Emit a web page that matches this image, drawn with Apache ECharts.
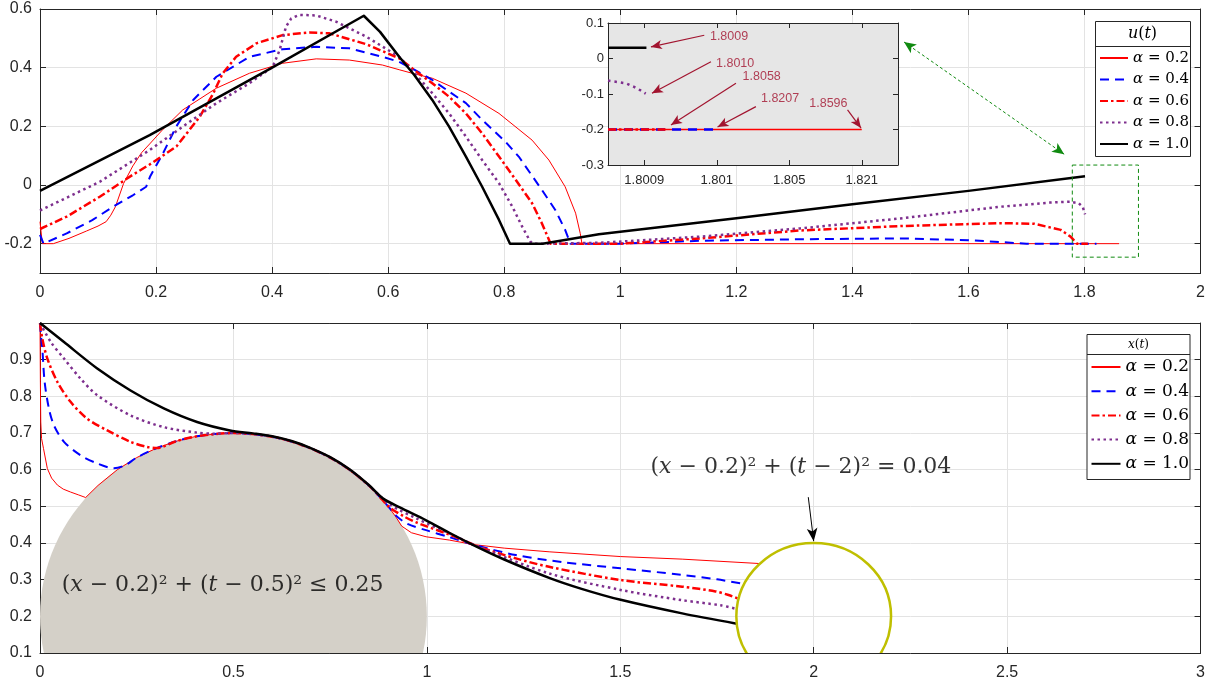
<!DOCTYPE html>
<html><head><meta charset="utf-8">
<script src="https://cdn.jsdelivr.net/npm/echarts@6/dist/echarts.min.js"></script>
<style>html,body{margin:0;padding:0;background:#fff}#c{width:1208px;height:684px}</style>
</head><body><div id="c"></div>
<script>
// ---------- data ----------
const alphaLabels = ['0.2', '0.4', '0.6', '0.8', '1.0'];

// top panel u(t)
const u02 = [[0,-0.125],[0.004,-0.2],[0.023,-0.2],[0.05,-0.182],[0.08,-0.157],[0.1,-0.14],[0.114,-0.125],[0.122,-0.103],[0.13,-0.074],[0.144,0.005],[0.16,0.065],[0.175,0.11],[0.189,0.14],[0.212,0.19],[0.246,0.256],[0.304,0.33],[0.361,0.381],[0.418,0.415],[0.476,0.43],[0.533,0.426],[0.59,0.409],[0.619,0.393],[0.645,0.379],[0.676,0.364],[0.734,0.313],[0.791,0.244],[0.848,0.153],[0.877,0.085],[0.905,-0.006],[0.923,-0.096],[0.931,-0.165],[0.934,-0.2],[1.8596,-0.2]];
const u04 = [[0,-0.17],[0.006,-0.2],[0.046,-0.165],[0.09,-0.12],[0.126,-0.074],[0.16,-0.035],[0.183,-0.006],[0.19,0.03],[0.212,0.108],[0.235,0.2],[0.264,0.29],[0.304,0.369],[0.361,0.437],[0.418,0.463],[0.476,0.471],[0.533,0.466],[0.59,0.437],[0.619,0.42],[0.645,0.393],[0.676,0.358],[0.734,0.279],[0.762,0.222],[0.802,0.148],[0.825,0.097],[0.865,-0.017],[0.888,-0.085],[0.905,-0.153],[0.914,-0.2],[1.0,-0.2],[1.14,-0.19],[1.31,-0.185],[1.483,-0.182],[1.6,-0.188],[1.684,-0.198],[1.7,-0.2],[1.8207,-0.2]];
const u06 = [[0,-0.15],[0.046,-0.108],[0.103,-0.04],[0.16,0.035],[0.189,0.07],[0.235,0.131],[0.275,0.232],[0.298,0.31],[0.315,0.381],[0.338,0.437],[0.373,0.483],[0.418,0.511],[0.464,0.52],[0.499,0.517],[0.562,0.48],[0.619,0.432],[0.645,0.392],[0.676,0.347],[0.705,0.301],[0.734,0.244],[0.762,0.176],[0.791,0.097],[0.82,0.017],[0.848,-0.062],[0.865,-0.131],[0.88,-0.2],[1.0,-0.2],[1.138,-0.182],[1.31,-0.155],[1.483,-0.14],[1.655,-0.13],[1.713,-0.132],[1.759,-0.153],[1.776,-0.176],[1.787,-0.2],[1.8058,-0.2]];
const u08 = [[0,-0.087],[0.103,0.011],[0.189,0.119],[0.246,0.199],[0.304,0.279],[0.361,0.347],[0.401,0.403],[0.413,0.46],[0.424,0.54],[0.433,0.568],[0.447,0.58],[0.476,0.578],[0.51,0.557],[0.562,0.506],[0.619,0.437],[0.653,0.365],[0.676,0.313],[0.705,0.244],[0.734,0.165],[0.762,0.085],[0.791,0.006],[0.814,-0.074],[0.831,-0.142],[0.845,-0.193],[0.85,-0.2],[0.87,-0.2],[0.966,-0.197],[1.138,-0.176],[1.31,-0.148],[1.483,-0.114],[1.655,-0.074],[1.74,-0.06],[1.775,-0.057],[1.79,-0.062],[1.797,-0.075],[1.801,-0.1]];
const u10 = [[0,-0.02],[0.189,0.17],[0.4,0.4],[0.558,0.577],[0.586,0.522],[0.619,0.437],[0.645,0.375],[0.676,0.29],[0.705,0.199],[0.734,0.097],[0.762,-0.006],[0.791,-0.119],[0.81,-0.2],[0.866,-0.2],[0.963,-0.168],[1.2,-0.113],[1.4,-0.066],[1.6,-0.02],[1.8009,0.03]];

// inset (x = tick index position)
const insetTickLabels = ['1.8009', '1.801', '1.805', '1.821'];
const insetTickPos = [0, 1, 2, 3];
const insetU02 = [[-0.5,-0.2],[3.0,-0.2]];
const insetU04 = [[-0.5,-0.2],[1.0,-0.2]];
const insetU06 = [[-0.5,-0.2],[0.3,-0.2]];
const insetU08 = [[-0.5,-0.062],[-0.25,-0.07],[-0.14,-0.08],[-0.05,-0.09],[0.02,-0.099]];
const insetU10 = [[-0.5,0.03],[0.03,0.03]];
const insetNotes = [[0.906,0.061,'1.8009'],[0.99,-0.014,'1.8010'],[1.356,-0.0515,'1.8058'],[1.61,-0.112,'1.8207'],[2.276,-0.126,'1.8596']];
const insetArrows = [
  [[0.828,0.0655],[0.092,0.0327]],
  [[0.92,-0.0094],[0.106,-0.098]],
  [[1.265,-0.07],[0.368,-0.187]],
  [[1.54,-0.1356],[1.011,-0.193]],
  [[2.804,-0.1449],[2.99,-0.196]]
];
const zoomBox = [[1.779,0.068],[1.893,0.068],[1.893,-0.246],[1.779,-0.246],[1.779,0.068]];
const zoomArrow = [[1.489,0.4875],[1.765,0.105]];

// bottom panel x(t)
const x02 = [[0,1.0],[0.001,0.84],[0.002,0.73],[0.004,0.685],[0.009,0.658],[0.019,0.603],[0.03,0.577],[0.045,0.558],[0.06,0.547],[0.079,0.539],[0.1,0.531],[0.118,0.524],[0.15,0.557],[0.2,0.6],[0.25,0.633],[0.3,0.658],[0.35,0.677],[0.4,0.69],[0.45,0.697],[0.5,0.7],[0.55,0.697],[0.6,0.69],[0.65,0.677],[0.7,0.658],[0.75,0.633],[0.8,0.6],[0.85,0.557],[0.9,0.5],[0.92,0.471],[0.935,0.446],[0.96,0.428],[0.998,0.417],[1.058,0.408],[1.119,0.396],[1.2,0.386],[1.316,0.376],[1.501,0.363],[1.66,0.356],[1.8596,0.344]];
const x04 = [[0,1.0],[0.003,0.96],[0.006,0.93],[0.012,0.839],[0.023,0.767],[0.036,0.721],[0.062,0.676],[0.105,0.639],[0.148,0.617],[0.191,0.604],[0.22,0.612],[0.25,0.633],[0.3,0.658],[0.35,0.677],[0.4,0.69],[0.45,0.697],[0.5,0.7],[0.55,0.697],[0.6,0.69],[0.65,0.677],[0.7,0.658],[0.75,0.633],[0.8,0.6],[0.85,0.557],[0.9,0.5],[0.921,0.474],[0.95,0.452],[0.998,0.435],[1.058,0.416],[1.119,0.396],[1.23,0.367],[1.35,0.348],[1.501,0.331],[1.66,0.313],[1.75,0.301],[1.8207,0.288]];
const x06 = [[0,1.0],[0.006,0.957],[0.019,0.903],[0.045,0.839],[0.079,0.785],[0.122,0.739],[0.174,0.707],[0.234,0.676],[0.277,0.662],[0.303,0.659],[0.35,0.677],[0.4,0.69],[0.45,0.697],[0.5,0.7],[0.55,0.697],[0.6,0.69],[0.65,0.677],[0.7,0.658],[0.75,0.633],[0.8,0.6],[0.85,0.557],[0.875,0.53],[0.904,0.497],[0.94,0.473],[0.973,0.456],[1.058,0.423],[1.119,0.396],[1.144,0.386],[1.23,0.358],[1.316,0.335],[1.501,0.299],[1.66,0.281],[1.746,0.268],[1.78,0.258],[1.8058,0.248]];
const x08 = [[0,1.0],[0.028,0.948],[0.062,0.903],[0.105,0.848],[0.148,0.803],[0.234,0.748],[0.32,0.716],[0.406,0.701],[0.45,0.698],[0.5,0.7],[0.55,0.697],[0.6,0.69],[0.65,0.677],[0.7,0.658],[0.75,0.633],[0.8,0.6],[0.85,0.557],[0.87,0.537],[0.904,0.505],[0.973,0.467],[1.058,0.426],[1.119,0.396],[1.144,0.385],[1.316,0.317],[1.501,0.272],[1.66,0.244],[1.76,0.23],[1.801,0.22]];
const x10 = [[0,1.0],[0.062,0.948],[0.148,0.876],[0.234,0.816],[0.32,0.767],[0.406,0.73],[0.491,0.707],[0.55,0.699],[0.6,0.691],[0.65,0.678],[0.7,0.659],[0.75,0.634],[0.8,0.601],[0.85,0.558],[0.887,0.521],[0.93,0.497],[0.998,0.462],[1.058,0.428],[1.119,0.395],[1.2,0.355],[1.316,0.305],[1.4,0.275],[1.501,0.245],[1.66,0.208],[1.8009,0.18]];

const obstacleCircle = [0.5, 0.2, 0.5];   // centre t, centre x, radius
const targetCircle = [2.0, 0.2, 0.2];
const circleNotes = [[0.472, 0.285, 'obstacle'], [1.967, 0.607, 'target']];
const targetArrow = [[1.986, 0.525], [2.0, 0.405]];

// ---------- styles ----------
const STY = [
  {color:'#ff0000', width:1, type:'solid'},
  {color:'#0000ff', width:2, type:[9,6]},
  {color:'#ff0000', width:2.5, type:[8,3,2.5,3]},
  {color:'#7e2f8e', width:2.5, type:[2.5,3.5]},
  {color:'#000000', width:2.5, type:'solid'}
];
const BOT_SMOOTH = [0, 0.3, 0.3, 0.3, 0.3];
const AX = '#262626';
const GRIDC = '#e3e3e3';
const SANS = 'Liberation Sans';
const SERIF = 'DejaVu Serif';

function lineS(name, data, st, xi, yi, z, smooth) {
  const s = {type:'line', name, data, xAxisIndex:xi, yAxisIndex:yi, symbol:'none', showSymbol:false,
    lineStyle:{color:st.color, width:st.width, type:st.type, cap:'butt', join:'round'},
    itemStyle:{color:st.color}, z:z || 2, silent:true, animation:false};
  if (smooth) { s.smooth = smooth; }
  return s;
}
function baseAxis(o) {
  return Object.assign({
    type:'value',
    axisLine:{show:true, onZero:false, lineStyle:{color:AX, width:1}},
    axisTick:{show:true, inside:true, length:6, lineStyle:{color:AX}},
    axisLabel:{show:false},
    splitLine:{show:false}
  }, o);
}
function lbl(o) { return Object.assign({show:true, color:AX, fontFamily:SANS, fontSize:16}, o); }

const topY = {min:-0.3, max:0.6, splitNumber:5, minInterval:0.2, maxInterval:0.2};
const fmtTopY = v => Math.abs(v + 0.3) < 1e-6 ? '' : String(+v.toFixed(2));

const xAxes = [
  baseAxis({gridIndex:0, min:0, max:2, interval:0.2, axisLabel:lbl({margin:12}), splitLine:{show:true, lineStyle:{color:GRIDC}}}),
  baseAxis({gridIndex:0, min:0, max:2, interval:0.2, position:'top'}),
  baseAxis({gridIndex:1, min:-0.5, max:3.5, z:4,
    axisTick:{show:true, inside:true, length:5, lineStyle:{color:AX}, customValues:insetTickPos},
    axisLabel:lbl({fontSize:13, margin:9, customValues:insetTickPos, formatter:v => insetTickLabels[Math.round(v)]})}),
  baseAxis({gridIndex:1, min:-0.5, max:3.5, position:'top', z:4,
    axisTick:{show:true, inside:true, length:5, lineStyle:{color:AX}, customValues:insetTickPos}}),
  baseAxis({gridIndex:2, min:0, max:3, interval:0.5, axisLabel:lbl({margin:12}), splitLine:{show:true, lineStyle:{color:GRIDC}}}),
  baseAxis({gridIndex:2, min:0, max:3, interval:0.5, position:'top'})
];
const yAxes = [
  baseAxis(Object.assign({gridIndex:0, axisLabel:lbl({margin:8, formatter:fmtTopY}), splitLine:{show:true, lineStyle:{color:GRIDC}}}, topY)),
  baseAxis(Object.assign({gridIndex:0, position:'right'}, topY)),
  baseAxis({gridIndex:1, min:-0.3, max:0.1, interval:0.1, z:4, axisTick:{show:true, inside:true, length:5, lineStyle:{color:AX}},
    axisLabel:lbl({fontSize:13, margin:4, formatter:v => String(+v.toFixed(1))})}),
  baseAxis({gridIndex:1, min:-0.3, max:0.1, interval:0.1, position:'right', z:4, axisTick:{show:true, inside:true, length:5, lineStyle:{color:AX}}}),
  baseAxis({gridIndex:2, min:0.1, max:1.0, interval:0.1, axisLabel:lbl({margin:8, formatter:v => v > 0.95 ? '' : v.toFixed(1)}), splitLine:{show:true, lineStyle:{color:GRIDC}}}),
  baseAxis({gridIndex:2, min:0.1, max:1.0, interval:0.1, position:'right'})
];

const topData = [u02, u04, u06, u08, u10];
const insetData = [insetU02, insetU04, insetU06, insetU08, insetU10];
const botData = [x02, x04, x06, x08, x10];

const series = [];
topData.forEach((d, i) => series.push(lineS('u' + (i + 1), d, STY[i], 0, 0, 2)));
series.push({type:'line', name:'zoombox', data:zoomBox, xAxisIndex:0, yAxisIndex:0, symbol:'none', silent:true, animation:false,
  lineStyle:{color:'#108a10', width:1, type:[4,3]}, z:2,
  markLine:{silent:true, animation:false, symbol:['arrow','arrow'], symbolSize:[8,12], label:{show:false},
    lineStyle:{color:'#108a10', width:1, type:[3,2.5]},
    data:[[{coord:zoomArrow[0]}, {coord:zoomArrow[1]}]]}});

const insetSty = [
  {color:'#ff0000', width:1.5, type:'solid'},
  {color:'#0000ff', width:2.5, type:[9,7]},
  {color:'#ff0000', width:2.5, type:[8,3,2.5,3]},
  {color:'#7e2f8e', width:2.5, type:[2.5,4]},
  {color:'#000000', width:2.5, type:'solid'}
];
insetData.forEach((d, i) => series.push(lineS('inset' + i, d, insetSty[i], 2, 2, 6)));
series.push({type:'scatter', name:'insetNotes', xAxisIndex:2, yAxisIndex:2, data:insetNotes, symbolSize:0.01, silent:true, z:7, animation:false,
  itemStyle:{color:'rgba(0,0,0,0)'},
  label:{show:true, position:'right', distance:0, formatter:p => p.data[2], color:'#a2142f', fontFamily:SANS, fontSize:12.5},
  markLine:{silent:true, animation:false, symbol:['none','arrow'], symbolSize:[7,11], label:{show:false},
    lineStyle:{color:'#a2142f', width:1.2, type:'solid'},
    data:insetArrows.map(a => [{coord:a[0]}, {coord:a[1]}])}});

// bottom
series.push({type:'custom', name:'obstacle', xAxisIndex:4, yAxisIndex:4, data:[obstacleCircle], clip:true, silent:true, z:1, animation:false,
  encode:{x:0, y:1},
  renderItem:(params, api) => {
    const c = api.coord([api.value(0), api.value(1)]);
    const s = api.size([api.value(2), api.value(2)]);
    return {type:'ellipse', shape:{cx:c[0], cy:c[1], rx:s[0], ry:s[1]}, style:{fill:'#d4d0c8', stroke:null}};
  }});
botData.forEach((d, i) => series.push(lineS('x' + (i + 1), d, STY[i], 4, 4, 3, BOT_SMOOTH[i])));
series.push({type:'custom', name:'target', xAxisIndex:4, yAxisIndex:4, data:[targetCircle], clip:true, silent:true, z:4, animation:false,
  encode:{x:0, y:1},
  renderItem:(params, api) => {
    const c = api.coord([api.value(0), api.value(1)]);
    const s = api.size([api.value(2), api.value(2)]);
    return {type:'ellipse', shape:{cx:c[0], cy:c[1], rx:s[0], ry:s[1]}, style:{fill:null, stroke:'#bfbf00', lineWidth:2.5}};
  }});
const noteText = {
  obstacle:'({i|x} − 0.2)² + ({i|t} − 0.5)² ≤ 0.25',
  target:'({i|x} − 0.2)² + ({i|t} − 2)² = 0.04'
};
series.push({type:'scatter', name:'circleNotes', xAxisIndex:4, yAxisIndex:4, data:circleNotes, symbolSize:0.01, silent:true, z:6, animation:false,
  itemStyle:{color:'rgba(0,0,0,0)'},
  label:{show:true, position:'inside', formatter:p => noteText[p.data[2]], color:'#000', fontFamily:SERIF, fontSize:22,
    rich:{i:{fontFamily:SERIF, fontStyle:'italic', fontSize:22, color:'#000'}}},
  markLine:{silent:true, animation:false, symbol:['none','arrow'], symbolSize:[8,13], label:{show:false},
    lineStyle:{color:'#000', width:1, type:'solid'},
    data:[[{coord:targetArrow[0]}, {coord:targetArrow[1]}]]}});

const legFmt = name => '{a|α} = ' + alphaLabels[+name.slice(1) - 1];

const option = {
  animation:false,
  backgroundColor:'#fff',
  grid:[
    {left:40, top:9, width:1163, height:264, show:false},
    {left:608, top:23, width:290, height:142, show:true, backgroundColor:'#e6e6e6', borderWidth:0, z:3},
    {left:40, top:323, width:1163, height:330, show:false}
  ],
  xAxis:xAxes,
  yAxis:yAxes,
  legend:[
    {data:['u1','u2','u3','u4','u5'], orient:'vertical', left:1099, top:50.5, padding:0, itemGap:6.5, itemWidth:28, itemHeight:14,
      selectedMode:false, formatter:legFmt, z:6, itemStyle:{opacity:0},
      textStyle:{fontFamily:SERIF, fontSize:15, lineHeight:15, color:'#000', rich:{a:{fontFamily:SERIF, fontStyle:'italic', fontSize:15, lineHeight:15, color:'#000'}}}},
    {data:['x1','x2','x3','x4','x5'], orient:'vertical', left:1090.5, top:358.5, padding:0, itemGap:7.2, itemWidth:29, itemHeight:14,
      selectedMode:false, formatter:legFmt, z:6, itemStyle:{opacity:0},
      textStyle:{fontFamily:SERIF, fontSize:17, lineHeight:17, color:'#000', rich:{a:{fontFamily:SERIF, fontStyle:'italic', fontSize:17, lineHeight:17, color:'#000'}}}}
  ],
  graphic:[
    {type:'rect', z:5, shape:{x:1095.5, y:21.5, width:95, height:135}, style:{fill:'#fff', stroke:AX, lineWidth:1}},
    {type:'line', z:5, shape:{x1:1095.5, y1:46.5, x2:1190.5, y2:46.5}, style:{stroke:AX, lineWidth:1}},
    {type:'text', z:6, x:1142.5, y:34, style:{text:'{i|u}({i|t})', fontFamily:SERIF, fontSize:16, fill:'#000', align:'center', verticalAlign:'middle',
      rich:{i:{fontFamily:SERIF, fontStyle:'italic', fontSize:16}}}},
    {type:'rect', z:5, shape:{x:1087, y:334.5, width:103, height:145}, style:{fill:'#fff', stroke:AX, lineWidth:1}},
    {type:'line', z:5, shape:{x1:1087, y1:354.5, x2:1190, y2:354.5}, style:{stroke:AX, lineWidth:1}},
    {type:'text', z:6, x:1138.5, y:344.5, style:{text:'{i|x}({i|t})', fontFamily:SERIF, fontSize:12, fill:'#000', align:'center', verticalAlign:'middle',
      rich:{i:{fontFamily:SERIF, fontStyle:'italic', fontSize:12}}}}
  ],
  series:series
};
const chart = echarts.init(document.getElementById('c'));
chart.setOption(option);
</script>
</body></html>
